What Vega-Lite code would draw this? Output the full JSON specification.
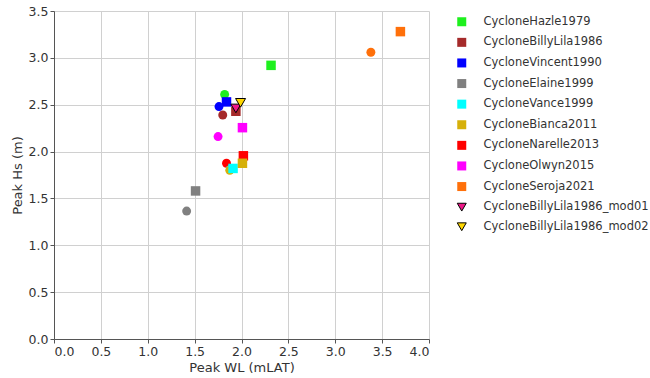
{
  "$schema": "https://vega.github.io/schema/vega-lite/v6.json",
  "width": 375,
  "height": 328,
  "autosize": {"type": "none"},
  "padding": {"left": 54, "top": 11, "right": 221, "bottom": 39},
  "config": {
    "font": "DejaVu Sans",
    "view": {"stroke": null},
    "axis": {
      "grid": true,
      "gridColor": "#d0d0d0",
      "gridWidth": 1,
      "domainColor": "#555555",
      "tickColor": "#555555",
      "tickSize": 4,
      "labelPadding": 2,
      "labelFontSize": 12.5,
      "labelColor": "#333333",
      "titleFontSize": 13,
      "titleFontWeight": "normal",
      "titleColor": "#333333",
      "titlePadding": 4
    },
    "legend": {
      "labelFontSize": 11.5,
      "labelColor": "#333333",
      "labelLimit": 300,
      "symbolSize": 81,
      "symbolStrokeWidth": 1,
      "rowPadding": 6.6,
      "labelOffset": 16,
      "padding": 0
    }
  },
  "data": {
    "values": [
      {"name": "CycloneHazle1979", "kind": "circle", "wl": 1.82, "hs": 2.61},
      {"name": "CycloneBillyLila1986", "kind": "circle", "wl": 1.80, "hs": 2.39},
      {"name": "CycloneVincent1990", "kind": "circle", "wl": 1.76, "hs": 2.48},
      {"name": "CycloneElaine1999", "kind": "circle", "wl": 1.415, "hs": 1.365},
      {"name": "CycloneNarelle2013", "kind": "circle", "wl": 1.84, "hs": 1.875},
      {"name": "CycloneVance1999", "kind": "circle", "wl": 1.88, "hs": 1.81},
      {"name": "CycloneBianca2011", "kind": "circle", "wl": 1.875, "hs": 1.80},
      {"name": "CycloneOlwyn2015", "kind": "circle", "wl": 1.75, "hs": 2.16},
      {"name": "CycloneSeroja2021", "kind": "circle", "wl": 3.38, "hs": 3.06},
      {"name": "CycloneHazle1979", "kind": "square", "wl": 2.315, "hs": 2.92},
      {"name": "CycloneBillyLila1986", "kind": "square", "wl": 1.94, "hs": 2.43},
      {"name": "CycloneVincent1990", "kind": "square", "wl": 1.84, "hs": 2.53},
      {"name": "CycloneElaine1999", "kind": "square", "wl": 1.51, "hs": 1.58},
      {"name": "CycloneVance1999", "kind": "square", "wl": 1.91, "hs": 1.82},
      {"name": "CycloneNarelle2013", "kind": "square", "wl": 2.02, "hs": 1.955},
      {"name": "CycloneBianca2011", "kind": "square", "wl": 2.01, "hs": 1.875},
      {"name": "CycloneOlwyn2015", "kind": "square", "wl": 2.01, "hs": 2.255},
      {"name": "CycloneSeroja2021", "kind": "square", "wl": 3.695, "hs": 3.28},
      {"name": "CycloneBillyLila1986_mod01", "kind": "tri", "wl": 1.94, "hs": 2.46},
      {"name": "CycloneBillyLila1986_mod02", "kind": "tri", "wl": 1.99, "hs": 2.52}
    ]
  },
  "mark": {"type": "point", "filled": true, "opacity": 1, "strokeWidth": 1, "strokeOpacity": 1},
  "encoding": {
    "x": {
      "field": "wl", "type": "quantitative", "title": "Peak WL (mLAT)",
      "scale": {"domain": [0, 4], "nice": false, "zero": false},
      "axis": {"values": [0, 0.5, 1, 1.5, 2, 2.5, 3, 3.5, 4], "format": ".1f"}
    },
    "y": {
      "field": "hs", "type": "quantitative", "title": "Peak Hs (m)",
      "scale": {"domain": [0, 3.5], "nice": false, "zero": false},
      "axis": {"values": [0, 0.5, 1, 1.5, 2, 2.5, 3, 3.5], "format": ".1f"}
    },
    "size": {
      "field": "kind", "type": "nominal", "legend": null,
      "scale": {"domain": ["circle", "square", "tri"], "range": [80, 100, 100]}
    },
    "shape": {
      "field": "name", "type": "nominal",
      "condition": {"test": "datum.kind === 'circle'", "value": "circle"},
      "scale": {
        "domain": ["CycloneHazle1979", "CycloneBillyLila1986", "CycloneVincent1990", "CycloneElaine1999", "CycloneVance1999", "CycloneBianca2011", "CycloneNarelle2013", "CycloneOlwyn2015", "CycloneSeroja2021", "CycloneBillyLila1986_mod01", "CycloneBillyLila1986_mod02"],
        "range": ["square", "square", "square", "square", "square", "square", "square", "square", "square", "triangle-down", "triangle-down"]
      },
      "legend": {"title": null, "orient": "none", "legendX": 402, "legendY": 5}
    },
    "color": {
      "field": "name", "type": "nominal",
      "scale": {
        "domain": ["CycloneHazle1979", "CycloneBillyLila1986", "CycloneVincent1990", "CycloneElaine1999", "CycloneVance1999", "CycloneBianca2011", "CycloneNarelle2013", "CycloneOlwyn2015", "CycloneSeroja2021", "CycloneBillyLila1986_mod01", "CycloneBillyLila1986_mod02"],
        "range": ["#1ef01e", "#a52a2a", "#0000ff", "#808080", "#00ffff", "#d6b00a", "#ff0000", "#ff00ff", "#ff700a", "#ee1788", "#ffd700"]
      },
      "legend": {"title": null, "orient": "none", "legendX": 402, "legendY": 5}
    },
    "stroke": {
      "field": "name", "type": "nominal",
      "scale": {
        "domain": ["CycloneHazle1979", "CycloneBillyLila1986", "CycloneVincent1990", "CycloneElaine1999", "CycloneVance1999", "CycloneBianca2011", "CycloneNarelle2013", "CycloneOlwyn2015", "CycloneSeroja2021", "CycloneBillyLila1986_mod01", "CycloneBillyLila1986_mod02"],
        "range": ["transparent", "transparent", "transparent", "transparent", "transparent", "transparent", "transparent", "transparent", "transparent", "#000000", "#000000"]
      },
      "legend": {"title": null, "orient": "none", "legendX": 402, "legendY": 5}
    }
  }
}
